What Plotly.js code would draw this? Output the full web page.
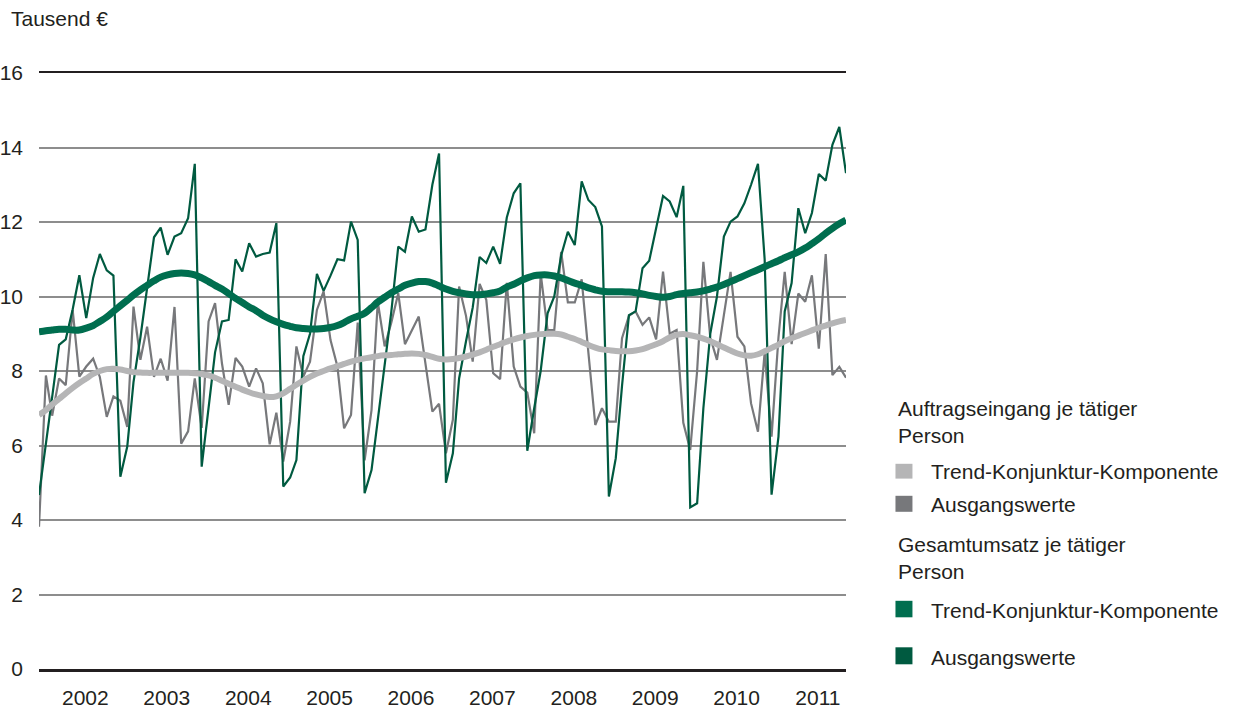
<!DOCTYPE html>
<html>
<head>
<meta charset="utf-8">
<script src="https://cdn.plot.ly/plotly-3.0.1.min.js"></script>
<style>
  html, body { margin: 0; padding: 0; background: #ffffff; }
  #chart { width: 1237px; height: 711px; }
</style>
</head>
<body>
<div id="chart"></div>
<script>
// ---- Data ----
const years = [2002, 2003, 2004, 2005, 2006, 2007, 2008, 2009, 2010, 2011];
const months = [];
years.forEach(function (y) {
  for (let m = 1; m <= 12; m++) months.push(y + '-' + (m < 10 ? '0' + m : m) + '-01');
});

const yUnit = 'Tausend €';
const groupTitles = ['Auftragseingang je tätiger<br>Person', 'Gesamtumsatz je tätiger<br>Person'];
const seriesNames = ['Trend-Konjunktur-Komponente', 'Ausgangswerte'];

// Auftragseingang je tätiger Person – Trend-Konjunktur-Komponente
const auftragTrend = [
  6.82, 6.95, 7.10, 7.25, 7.40, 7.55, 7.68, 7.80, 7.92, 8.00, 8.05, 8.06,
  8.04, 8.00, 7.97, 7.96, 7.95, 7.95, 7.95, 7.95, 7.95, 7.95, 7.95, 7.94,
  7.92, 7.88, 7.82, 7.74, 7.66, 7.58, 7.50, 7.43, 7.37, 7.33, 7.30, 7.32,
  7.40, 7.52, 7.63, 7.74, 7.84, 7.93, 8.00, 8.07, 8.13, 8.19, 8.25, 8.30,
  8.34, 8.37, 8.40, 8.42, 8.43, 8.45, 8.46, 8.47, 8.46, 8.43, 8.38, 8.33,
  8.31, 8.32, 8.35, 8.39, 8.44, 8.50, 8.57, 8.65, 8.72, 8.79, 8.85, 8.90,
  8.94, 8.97, 8.99, 9.00, 9.00, 8.98, 8.92, 8.86, 8.78, 8.70, 8.63, 8.58,
  8.56, 8.54, 8.53, 8.53, 8.55, 8.59, 8.65, 8.72, 8.80, 8.90, 8.97, 8.99,
  8.96, 8.92, 8.87, 8.80, 8.72, 8.63, 8.55, 8.47, 8.42, 8.41, 8.45, 8.53,
  8.62, 8.71, 8.80, 8.88, 8.95, 9.02, 9.09, 9.16, 9.22, 9.28, 9.33, 9.37
];
// Auftragseingang je tätiger Person – Ausgangswerte
const auftragRaw = [
  3.82, 7.88, 6.80, 7.80, 7.62, 9.64, 7.85, 8.12, 8.33, 7.84, 6.77, 7.32,
  7.20, 6.50, 9.73, 8.30, 9.19, 7.84, 8.33, 7.74, 9.72, 6.05, 6.38, 7.80,
  6.47, 9.33, 9.82, 8.20, 7.09, 8.35, 8.12, 7.58, 8.07, 7.67, 6.03, 6.88,
  5.57, 6.64, 8.66, 7.85, 8.25, 9.64, 10.14, 8.83, 8.12, 6.46, 6.82, 9.30,
  5.60, 6.95, 9.86, 8.66, 9.30, 10.09, 8.72, 9.10, 9.46, 8.20, 6.91, 7.12,
  5.79, 6.69, 10.27, 9.48, 8.25, 10.34, 9.91, 7.94, 7.78, 10.37, 8.12, 7.58,
  7.42, 6.33, 10.62, 9.10, 9.10, 11.20, 9.84, 9.84, 10.46, 8.50, 6.55, 7.00,
  6.64, 6.64, 8.88, 9.48, 9.60, 9.24, 9.44, 8.85, 10.67, 9.00, 9.10, 6.61,
  5.88, 8.00, 10.93, 8.90, 8.30, 9.50, 10.66, 8.92, 8.66, 7.13, 6.37, 8.50,
  6.24, 8.90, 10.66, 8.72, 10.08, 9.86, 10.57, 8.60, 11.14, 7.89, 8.11, 7.82
];
// Gesamtumsatz je tätiger Person – Trend-Konjunktur-Komponente
const umsatzTrend = [
  9.05, 9.08, 9.10, 9.12, 9.12, 9.10, 9.10, 9.15, 9.22, 9.33, 9.45, 9.60,
  9.75, 9.90, 10.04, 10.18, 10.30, 10.42, 10.52, 10.58, 10.62, 10.63, 10.62, 10.58,
  10.50, 10.40, 10.30, 10.20, 10.08, 9.95, 9.84, 9.72, 9.62, 9.50, 9.40, 9.32,
  9.25, 9.20, 9.16, 9.14, 9.13, 9.13, 9.14, 9.17, 9.22, 9.30, 9.40, 9.47,
  9.55, 9.70, 9.85, 9.98, 10.10, 10.20, 10.30, 10.36, 10.40, 10.40, 10.36, 10.28,
  10.20, 10.14, 10.10, 10.07, 10.05, 10.05, 10.07, 10.10, 10.15, 10.25, 10.33, 10.42,
  10.50, 10.56, 10.58, 10.58, 10.55, 10.50, 10.43, 10.36, 10.30, 10.23, 10.18, 10.14,
  10.13, 10.13, 10.13, 10.12, 10.10, 10.07, 10.03, 10.00, 9.98, 10.00, 10.05, 10.08,
  10.10, 10.12, 10.15, 10.20, 10.25, 10.32, 10.40, 10.48, 10.56, 10.64, 10.72, 10.80,
  10.88, 10.96, 11.04, 11.12, 11.20, 11.30, 11.42, 11.55, 11.70, 11.83, 11.95, 12.05
];
// Gesamtumsatz je tätiger Person – Ausgangswerte
const umsatzRaw = [
  4.67, 6.00, 7.30, 8.70, 8.85, 9.65, 10.57, 9.42, 10.50, 11.14, 10.70, 10.56,
  5.16, 5.97, 7.70, 8.90, 10.20, 11.59, 11.85, 11.12, 11.61, 11.70, 12.10, 13.56,
  5.43, 7.00, 8.50, 9.33, 9.37, 11.00, 10.67, 11.43, 11.07, 11.14, 11.18, 11.97,
  4.90, 5.14, 5.61, 8.40, 9.00, 10.61, 10.15, 10.56, 11.00, 10.97, 12.01, 11.52,
  4.72, 5.34, 6.70, 8.10, 9.60, 11.34, 11.20, 12.15, 11.74, 11.80, 13.00, 13.84,
  5.00, 5.79, 7.80, 8.80, 9.70, 11.06, 10.90, 11.34, 10.88, 12.12, 12.77, 13.04,
  5.86, 7.00, 8.00, 9.55, 10.00, 11.10, 11.74, 11.38, 13.09, 12.59, 12.40, 11.88,
  4.63, 5.66, 7.60, 9.50, 9.60, 10.76, 10.96, 11.83, 12.70, 12.55, 12.13, 12.97,
  4.34, 4.45, 7.00, 9.00, 10.00, 11.61, 12.01, 12.15, 12.50, 13.00, 13.56, 11.00,
  4.68, 6.24, 9.60, 10.36, 12.37, 11.70, 12.24, 13.29, 13.11, 14.07, 14.55, 13.31
];

// ---- Styling ----
const colors = {
  auftragTrend: '#b5b5b6',
  auftragRaw: '#77787b',
  umsatzTrend: '#006e4f',
  umsatzRaw: '#005a40'
};
const FONT = 'Liberation Sans, Arial, Helvetica, sans-serif';
const TEXT = '#231f20';

const traces = [
  { x: months, y: auftragRaw, name: seriesNames[1], type: 'scatter', mode: 'lines',
    line: { color: colors.auftragRaw, width: 2.2 }, showlegend: false, hoverinfo: 'skip' },
  { x: months, y: umsatzRaw, name: seriesNames[1], type: 'scatter', mode: 'lines',
    line: { color: colors.umsatzRaw, width: 2.2 }, showlegend: false, hoverinfo: 'skip' },
  { x: months, y: auftragTrend, name: seriesNames[0], type: 'scatter', mode: 'lines',
    line: { color: colors.auftragTrend, width: 6, shape: 'spline', smoothing: 1 }, showlegend: false, hoverinfo: 'skip' },
  { x: months, y: umsatzTrend, name: seriesNames[0], type: 'scatter', mode: 'lines',
    line: { color: colors.umsatzTrend, width: 7, shape: 'spline', smoothing: 1 }, showlegend: false, hoverinfo: 'skip' }
];

// plot area geometry (pixels)
const W = 1237, H = 711;
const L = 39, R = 846.5, T = 72.7, B = 668.7;
const px = function (x) { return (x - L) / (R - L); };
const py = function (y) { return (B - y) / (B - T); };

// manual legend
const legendItems = [
  { kind: 'title', text: groupTitles[0], y: 422 },
  { kind: 'item', text: seriesNames[0], color: colors.auftragTrend, y: 471.5, sq: [463.5, 478.3] },
  { kind: 'item', text: seriesNames[1], color: colors.auftragRaw, y: 504.5, sq: [495.5, 511.5] },
  { kind: 'title', text: groupTitles[1], y: 558 },
  { kind: 'item', text: seriesNames[0], color: colors.umsatzTrend, y: 610, sq: [600.5, 617] },
  { kind: 'item', text: seriesNames[1], color: colors.umsatzRaw, y: 657, sq: [647, 664] }
];
const annotations = [];
const shapes = [];
legendItems.forEach(function (it) {
  if (it.kind === 'title') {
    annotations.push({ xref: 'paper', yref: 'paper', x: px(897), y: py(it.y), xanchor: 'left', yanchor: 'middle',
      text: it.text, showarrow: false, align: 'left', font: { family: FONT, size: 21, color: TEXT } });
  } else {
    annotations.push({ xref: 'paper', yref: 'paper', x: px(930), y: py(it.y), xanchor: 'left', yanchor: 'middle',
      text: it.text, showarrow: false, align: 'left', font: { family: FONT, size: 21, color: TEXT } });
    shapes.push({ type: 'rect', xref: 'paper', yref: 'paper', x0: px(896), x1: px(913), y0: py(it.sq[1]), y1: py(it.sq[0]),
      fillcolor: it.color, line: { width: 0 } });
  }
});

const layout = {
  width: W, height: H,
  paper_bgcolor: '#ffffff', plot_bgcolor: '#ffffff',
  margin: { l: L, r: W - R, t: T, b: H - B, pad: 0 },
  showlegend: false,
  font: { family: FONT, size: 21, color: TEXT },
  title: { text: yUnit, x: 11 / W, xanchor: 'left', xref: 'container', y: 1 - 18.5 / H, yanchor: 'middle', yref: 'container',
    font: { family: FONT, size: 21, color: TEXT } },
  xaxis: {
    type: 'date',
    range: [months[0], months[months.length - 1]],
    showgrid: false, zeroline: false,
    showline: true, mirror: true, linecolor: '#231f20', linewidth: 2.5,
    ticks: '',
    tickvals: years.map(function (y) { return y + '-07-28'; }),
    ticktext: years.map(String),
    ticklabelstandoff: 8,
    tickfont: { family: FONT, size: 21, color: TEXT },
    fixedrange: true
  },
  yaxis: {
    range: [0, 16],
    tickvals: [0, 2, 4, 6, 8, 10, 12, 14, 16],
    ticktext: ['0', '2', '4', '6', '8', '10', '12', '14', '16'],
    showgrid: true, gridcolor: '#8d8d8d', gridwidth: 2,
    zeroline: false, showline: false, ticks: '',
    ticklabelstandoff: 15,
    tickfont: { family: FONT, size: 21, color: TEXT },
    fixedrange: true
  },
  annotations: annotations,
  shapes: shapes
};

Plotly.newPlot('chart', traces, layout, { displayModeBar: false, staticPlot: true });
</script>
</body>
</html>
